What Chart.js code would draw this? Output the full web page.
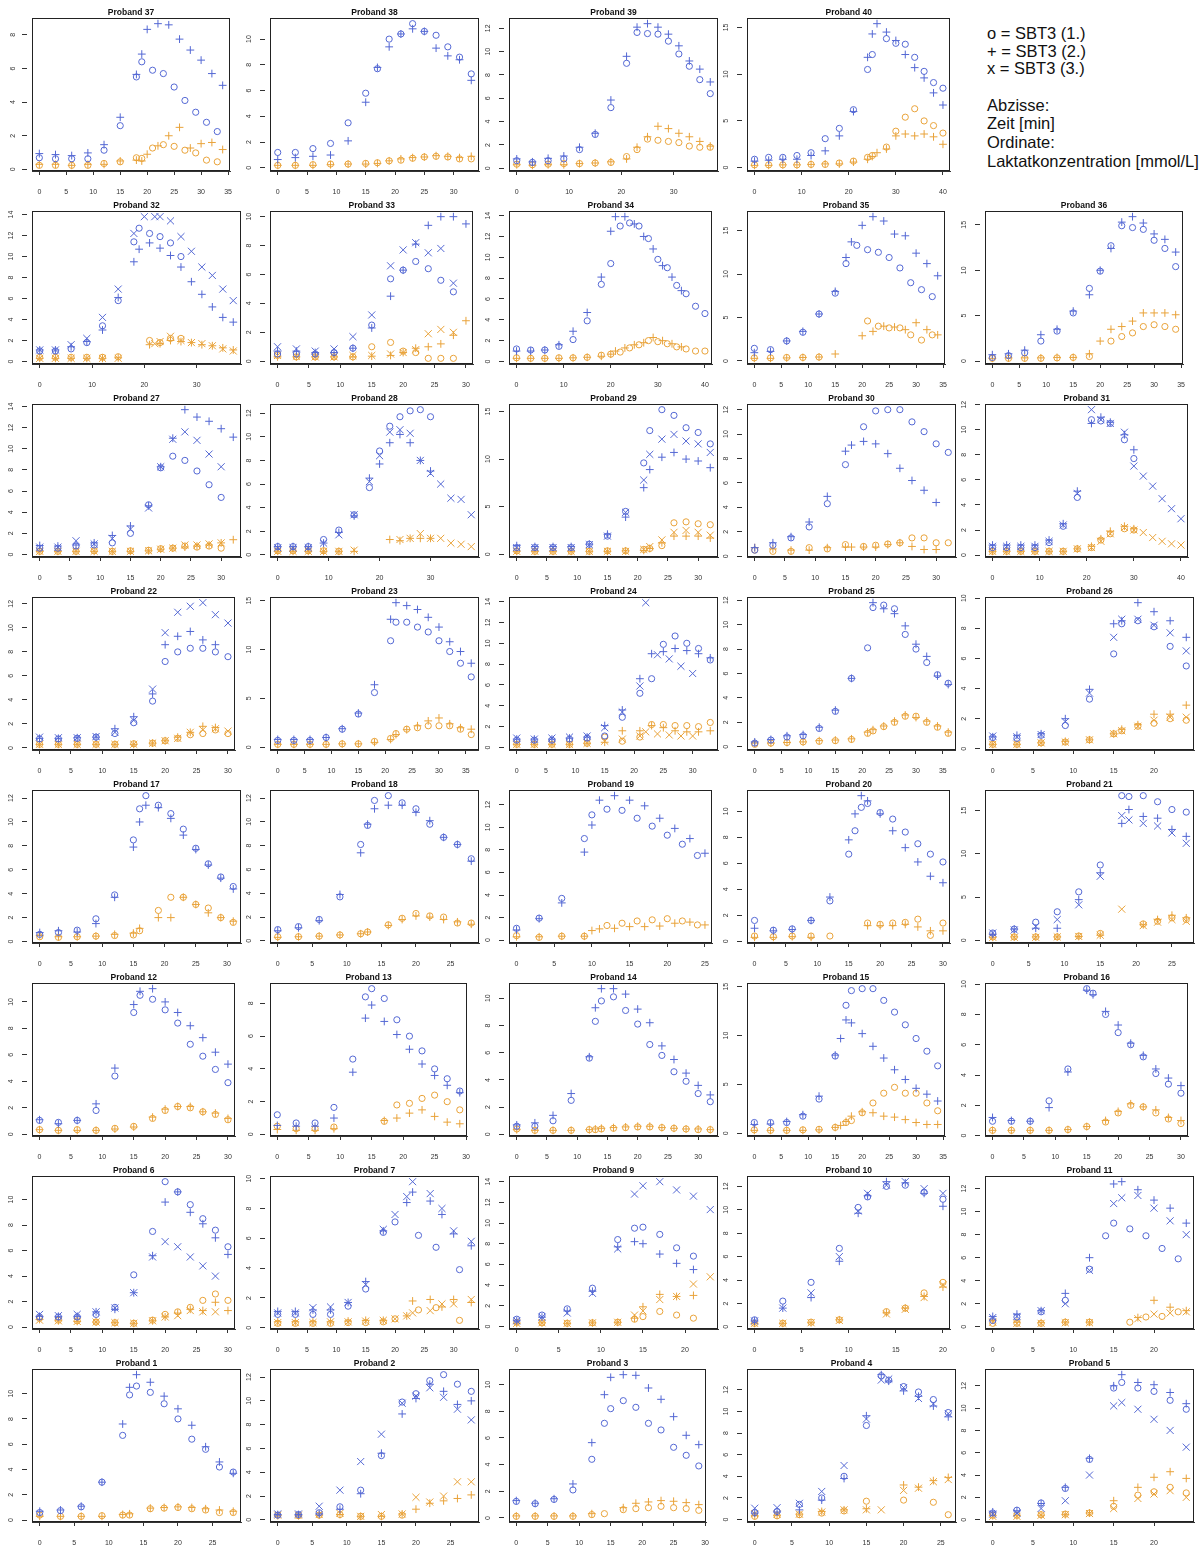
<!DOCTYPE html>
<html>
<head>
<meta charset="utf-8">
<script src="https://cdn.jsdelivr.net/npm/chart.js@4.4.1/dist/chart.umd.min.js"></script>
<style>
  body { margin: 0; background: #fff; width: 1204px; height: 1550px; position: relative; overflow: hidden; font-family: "Liberation Sans", Arial, sans-serif; }
  canvas { position: absolute; }
  .note { position: absolute; left: 987px; font-size: 16.5px; line-height: 20px; color: #111; white-space: nowrap; }
</style>
</head>
<body>
<div class="note" style="top:23px">o = SBT3 (1.)</div>
<div class="note" style="top:41px">+ = SBT3 (2.)</div>
<div class="note" style="top:58px">x = SBT3 (3.)</div>
<div class="note" style="top:95px">Abzisse:</div>
<div class="note" style="top:113px">Zeit [min]</div>
<div class="note" style="top:132px">Ordinate:</div>
<div class="note" style="top:151px">Laktatkonzentration [mmol/L]</div>

<script>
// panels in reading order (row 1 has four panels, then the notes)
const proband = [37, 38, 39, 40, 32, 33, 34, 35, 36, 27, 28, 29, 30, 31, 22, 23, 24, 25, 26,
  17, 18, 19, 20, 21, 12, 13, 14, 15, 16, 6, 7, 9, 10, 11, 1, 2, 3, 4, 5];

const xStep = [5, 5, 10, 10, 10, 5, 10, 5, 5, 5, 10, 5, 5, 10, 5, 5, 5, 5, 5,
  5, 5, 5, 5, 5, 5, 5, 5, 5, 5, 5, 5, 5, 5, 5, 5, 5, 5, 5, 5];
const yStep = [2, 2, 2, 5, 2, 2, 2, 5, 5, 2, 2, 5, 2, 2, 2, 5, 2, 2, 2,
  2, 2, 2, 2, 5, 2, 2, 2, 5, 2, 2, 2, 2, 2, 2, 2, 2, 2, 2, 2];

// sampling times [min] of test 1 (o)
const time1 = [
  [0,3,6,9,12,15,18,19,21,23,25,27,29,31,33],
  [0,3,6,9,12,15,17,19,21,23,25,27,29,31,33],
  [0,3,6,9,12,15,18,21,23,25,27,29,31,33,35,37],
  [0,3,6,9,12,15,18,21,24,25,28,30,32,34,36,38,40],
  [0,3,6,9,12,15,18,19,21,23,25,27],
  [0,3,6,9,12,15,18,20,22,24,26,28,30],
  [0,3,6,9,12,15,18,20,22,24,26,28,30,32,34,36,38,40],
  [0,3,6,9,12,15,17,19,21,23,25,27,29,31,33],
  [0,3,6,9,12,15,18,20,22,24,26,28,30,32,34],
  [0,3,6,9,12,15,18,20,22,24,26,28,30],
  [0,3,6,9,12,15,18,20,22,24,26,28,30],
  [0,3,6,9,12,15,18,21,22,24,26,28,30,32],
  [0,3,6,9,12,15,18,20,22,24,26,28,30,32],
  [0,3,6,9,12,15,18,21,23,25,28,30],
  [0,3,6,9,12,15,18,20,22,24,26,28,30],
  [0,3,6,9,12,15,18,21,22,24,26,28,30,32,34,36],
  [0,3,6,9,12,15,18,21,23,25,27,29,31,33],
  [0,3,6,9,12,15,18,21,22,24,26,28,30,32,34,36],
  [0,3,6,9,12,15,16,18,20,22,24],
  [0,3,6,9,12,15,16,17,19,21,23,25,27,29,31],
  [0,3,6,9,12,13,14,16,18,20,22,24,26,28],
  [0,3,6,9,10,12,14,16,18,20,22,24],
  [0,3,6,9,12,15,16,17,18,20,22,24,26,28,30],
  [0,3,6,9,12,15,18,19,21,23,25,27],
  [0,3,6,9,12,15,16,18,20,22,24,26,28,30],
  [0,3,6,9,12,14,15,17,19,21,23,25,27,29],
  [0,3,6,9,12,13,14,16,18,20,22,24,26,28,30,32],
  [0,3,6,9,12,15,16,17,18,20,22,24,26,28,30,32,34],
  [0,3,6,9,12,15,16,18,20,22,24,26,28,30],
  [0,3,6,9,12,15,18,20,22,24,26,28,30],
  [0,3,6,9,12,15,18,20,24,27,31],
  [0,3,6,9,12,14,15,17,19,21,23],
  [0,3,6,9,11,12,14,16,18,20],
  [0,3,6,9,12,14,15,17,19,21,23],
  [0,3,6,9,12,13,14,16,18,20,22,24,26,28],
  [0,3,6,9,12,15,18,20,22,24,26,28],
  [0,3,6,9,12,14,15,17,19,21,23,25,27,29],
  [0,3,6,9,12,15,17,18,20,22,24,26],
  [0,3,6,9,12,15,16,18,20,22,24]
];

// sampling times of test 2 (+), null = same as test 1
const time2 = [
  [0,3,6,9,12,15,18,19,20,22,24,26,28,30,32,34], null, null,
  [0,3,6,9,12,15,18,21,24,25,26,28,30,32,34,36,38,40],
  [0,3,6,9,12,15,18,19,21,23,25,27,29,31,33,35,37], null,
  [0,3,6,9,12,15,18,20,21,23,25,27,29,31,33,35],
  [0,3,6,9,12,15,17,18,20,22,24,26,28,30,32,34], null,
  [0,3,6,9,12,15,18,20,22,24,26,28,30,32], null, null,
  [0,3,6,9,12,15,16,18,20,22,24,26,28,30], null,
  null, null, null, null, null,
  null, null, [0,3,6,9,10,11,13,15,17,19,21,23,25], null, null,
  null, null, null, null, null,
  null, [0,3,6,9,12,15,18,22,23,26,28,30,33], null, null, [0,3,6,9,12,15,16,18,20,22,24],
  null, null, null, null, null
];

// sampling times of test 3 (x), null = same as test 1
const time3 = [
  null, null, null, null,
  [0,3,6,9,12,15,18,20,22,23,25,27,29,31,33,35,37], null, null, null, null,
  null, [0,3,6,9,12,15,18,20,22,24,26,28,30,32,34,36,38], null, null,
  [0,3,6,9,12,15,18,21,23,25,28,30,32,34,36,38,40],
  null, null, [0,3,6,9,12,15,18,21,22,24,26,28,30], null, null,
  null, null, null, null, null,
  null, null, null, null, null,
  null, [0,3,6,9,12,15,18,20,22,23,26,28,30,33], null, null, [0,3,6,9,12,15,16,18,20,22,24],
  null, null, null, null, null
];

// blue series [mmol/L]
const blue1 = [
  [0.69,0.63,0.63,0.63,1.14,2.6,5.5,6.4,5.9,5.7,4.9,4.1,3.4,2.8,2.25],
  [1.2,1.2,1.5,1.9,3.5,5.8,7.7,10.0,10.4,11.2,10.6,10.3,9.4,8.6,7.3],
  [0.65,0.5,0.65,0.8,1.6,2.9,5.2,9.0,11.65,11.55,11.5,10.9,9.8,8.75,7.6,6.4],
  [0.9,1.1,1.1,1.3,1.6,3.1,4.2,6.2,10.5,12.1,13.8,13.3,13.2,11.8,10.3,9.1,8.5],
  [1.0,1.0,1.2,1.8,3.4,5.8,11.4,12.7,12.2,11.9,11.3,10.0],
  [0.5,0.5,0.5,0.6,0.9,2.5,5.7,6.3,6.9,6.4,5.6,4.8,null],
  [1.2,1.1,1.1,1.45,2.1,3.9,7.4,9.4,13.0,13.3,13.0,11.8,9.8,9.0,7.3,6.5,5.3,4.6],
  [1.45,1.3,2.3,3.3,5.4,7.8,11.2,13.3,12.8,12.5,11.9,10.7,9.0,8.2,7.4],
  [0.4,0.6,0.9,2.2,3.3,5.3,8.0,9.9,12.7,14.9,14.7,14.5,13.3,12.4,10.4],
  [0.6,0.6,0.8,0.9,1.1,2.0,4.7,8.2,9.3,8.9,7.9,6.6,5.4],
  [0.7,0.7,0.7,1.3,2.1,3.4,5.7,8.8,10.9,11.7,12.2,12.3,11.7],
  [0.7,0.7,0.7,0.7,1.05,1.9,4.5,9.6,13.0,15.2,14.6,13.3,12.8,11.6],
  [0.5,0.9,1.5,2.4,4.3,7.5,10.6,11.9,12.0,12.0,11.0,10.2,9.2,8.5],
  [0.6,0.6,0.6,0.6,1.0,2.3,4.6,10.8,10.7,10.5,9.2,7.7],
  [0.75,0.75,0.8,0.9,1.2,2.1,3.9,7.2,8.0,8.3,8.3,8.0,7.6],
  [0.7,0.7,0.7,1.0,1.85,3.4,5.6,10.9,12.8,12.8,12.3,11.8,10.9,9.8,8.6,7.2],
  [0.7,0.7,0.7,0.8,0.9,1.1,2.9,5.2,6.6,9.9,10.7,10.0,9.5,8.4],
  [0.3,0.55,0.8,0.9,1.5,2.9,5.6,8.1,11.4,11.6,11.3,9.2,8.0,6.9,5.9,5.2],
  [0.75,0.7,0.9,1.55,3.3,6.3,8.3,8.5,8.1,6.8,5.5],
  [0.6,0.75,0.95,1.9,3.9,8.5,11.1,12.2,11.4,10.7,9.4,7.8,6.5,5.4,4.6],
  [0.95,1.2,1.8,3.7,8.1,9.7,11.8,12.2,11.6,11.1,9.8,8.7,8.1,6.9],
  [1.05,1.95,3.7,9.0,11.1,11.6,11.5,10.8,10.1,9.3,8.5,7.5],
  [1.6,0.85,0.95,1.6,3.1,6.7,8.5,10.3,10.6,9.9,9.4,8.4,7.5,6.7,6.1],
  [0.85,1.3,2.1,3.3,5.6,8.7,16.7,16.6,16.7,16.0,15.1,14.8],
  [1.05,0.9,1.05,1.8,4.4,9.2,10.5,10.2,9.4,8.4,6.8,5.9,4.9,3.9],
  [1.2,0.7,0.7,1.65,4.6,8.4,8.9,8.3,7.0,6.0,5.1,4.0,3.4,2.65],
  [0.6,0.6,1.0,2.5,5.6,8.3,9.8,10.1,9.1,8.1,6.6,5.8,4.6,3.9,3.0,2.4],
  [1.1,1.1,1.1,1.75,3.5,7.9,null,13.1,14.6,14.8,14.8,13.6,12.4,11.1,9.7,8.4,6.9],
  [0.95,0.95,0.95,2.3,4.4,9.7,9.4,8.0,6.8,6.0,5.2,4.1,3.4,2.8],
  [0.8,0.8,0.8,1.0,1.55,4.1,7.5,11.4,10.6,9.6,8.5,7.6,6.3],
  [0.9,0.9,0.9,0.9,1.45,2.6,6.4,7.1,6.2,5.4,3.9],
  [0.7,1.1,1.7,3.7,8.4,9.5,9.6,8.9,7.6,6.8,null],
  [0.6,2.2,3.8,6.7,10.2,11.1,12.0,12.1,11.5,10.9],
  [0.55,0.85,1.3,2.3,5.0,7.9,9.0,8.5,7.9,6.8,5.9],
  [0.6,0.75,1.05,3.0,6.7,9.9,10.6,10.1,9.2,8.0,6.4,5.6,4.2,3.8],
  [0.4,0.45,0.6,1.1,2.5,5.4,9.9,10.6,11.7,12.2,11.4,10.8],
  [1.24,1.07,1.39,2.1,4.4,7.1,8.2,8.8,8.3,7.1,6.6,5.3,4.7,3.9],
  [0.65,0.75,1.4,2.0,4.0,8.7,13.3,12.9,12.3,11.8,11.1,9.9],
  [0.6,0.85,1.5,2.8,5.4,11.8,12.3,11.8,11.5,10.7,9.9]
];

const blue2 = [
  [0.94,0.88,0.82,0.98,1.47,3.1,5.65,6.86,8.33,8.67,8.6,7.75,7.1,6.5,5.7,5.0],
  [0.65,0.8,0.9,1.0,2.1,5.1,7.8,9.4,10.4,10.8,10.6,9.3,8.7,8.4,6.8],
  [0.8,0.55,0.85,1.05,1.8,3.0,5.85,9.6,12.1,12.4,12.1,11.5,10.5,9.2,8.5,7.4],
  [0.7,0.8,0.9,0.9,1.3,1.8,3.4,6.0,11.8,14.3,15.4,14.5,13.6,12.1,10.7,9.6,8.0,6.7],
  [1.1,1.1,1.4,1.9,3.0,6.1,9.5,10.7,11.3,10.8,10.1,9.0,7.6,6.4,5.2,4.2,3.75],
  [0.7,0.7,0.6,0.6,0.9,2.3,4.5,6.3,8.1,9.4,10.0,10.0,9.5],
  [1.0,1.0,1.1,1.6,2.9,4.7,8.1,12.5,13.9,13.9,13.2,12.0,10.8,9.2,8.1,6.8],
  [0.95,1.1,2.3,3.4,5.4,8.0,11.9,13.7,15.6,16.6,16.1,14.6,14.4,12.4,11.2,9.8],
  [0.7,0.8,1.2,2.9,3.5,5.5,7.3,10.0,12.4,15.3,15.9,15.2,14.0,13.4,12.0],
  [0.85,0.8,0.9,1.1,1.8,2.7,4.6,8.3,11.0,13.7,13.0,12.6,11.9,11.1],
  [0.7,0.7,0.7,1.0,1.9,3.3,6.5,7.7,9.5,10.2,9.5,8.0,7.1],
  [0.9,0.8,0.8,0.8,1.05,2.1,3.9,7.0,8.9,10.2,10.7,10.0,9.8,9.1],
  [0.7,1.1,1.6,2.8,4.9,8.6,9.1,9.4,9.2,8.4,7.2,6.2,5.4,4.4],
  [0.8,0.8,0.8,0.8,1.2,2.5,5.1,10.5,11.0,10.6,9.6,8.4],
  [0.8,0.8,0.85,0.9,1.6,2.6,4.5,8.6,9.3,9.7,9.0,8.6,null],
  [0.8,0.8,0.8,1.0,1.9,3.5,6.4,13.1,14.8,14.5,14.1,13.3,12.3,10.8,9.8,8.6],
  [0.8,0.8,0.8,0.9,1.0,2.1,3.6,6.6,9.0,9.2,9.5,9.3,9.0,8.6],
  [0.4,0.6,0.9,1.0,1.6,3.0,5.6,null,11.8,11.3,10.9,9.9,8.4,7.4,5.8,5.1],
  [0.8,0.9,1.0,2.0,3.95,8.3,8.5,9.7,9.1,8.5,7.4],
  [0.75,0.9,0.8,1.5,3.7,7.9,10.0,11.4,11.2,10.3,8.9,7.7,6.4,5.3,4.4],
  [0.85,1.1,1.7,3.9,7.4,9.8,11.1,11.4,11.4,10.8,10.1,8.7,8.1,6.7],
  [0.9,1.9,3.3,7.8,10.2,12.4,12.8,12.4,11.9,10.8,9.9,9.0,7.7],
  [1.0,0.8,0.9,1.6,3.4,7.8,9.8,11.2,10.8,9.8,8.5,7.2,6.1,5.0,4.5],
  [0.7,1.3,1.4,1.4,4.7,7.8,13.5,15.1,14.3,14.1,12.8,12.0],
  [1.1,0.8,1.05,2.3,5.0,9.8,10.8,11.0,10.0,9.2,8.2,7.3,6.2,5.3],
  [0.55,0.5,0.5,1.0,3.8,7.1,7.9,6.9,6.1,5.2,4.3,3.6,3.0,2.55],
  [0.7,0.85,1.4,3.0,5.7,9.3,10.7,10.7,10.3,9.2,8.2,6.5,5.5,4.5,3.6,2.9],
  [0.9,0.95,1.2,1.9,3.8,8.0,9.7,11.6,11.3,10.2,8.9,7.7,6.5,5.5,4.6,4.0,3.3],
  [1.2,1.0,0.95,1.85,4.2,9.6,9.3,8.2,7.3,6.1,5.3,4.4,3.8,3.3],
  [0.85,0.85,0.85,1.2,1.4,2.7,5.6,9.8,10.6,9.0,8.1,7.0,5.7],
  [1.1,1.1,1.2,1.2,1.7,3.1,6.5,8.4,9.1,8.5,7.6,6.3,5.5],
  [0.55,0.9,1.5,3.4,7.7,8.2,8.0,7.0,6.1,5.5,null],
  [0.5,1.6,2.5,5.6,9.7,11.2,12.4,12.3,11.4,10.3],
  [0.9,1.1,1.4,2.9,6.0,12.4,12.6,11.9,11.0,10.3,9.0],
  [0.7,0.8,1.1,3.0,7.6,10.5,11.5,10.9,9.8,8.8,7.5,5.8,4.6,3.7],
  [0.45,0.45,0.5,0.9,2.2,5.6,8.9,10.2,11.4,10.8,9.7,10.0],
  [1.3,1.1,1.44,2.55,5.65,9.25,10.55,10.75,10.7,9.75,8.9,7.6,6.2,5.5],
  [0.6,0.7,0.9,1.8,3.8,9.6,13.4,12.8,11.9,11.4,10.5,9.5],
  [0.7,0.8,1.45,2.9,5.5,12.0,13.0,12.3,12.1,11.4,10.4]
];

const blue3 = [
  null, null, null, null,
  [1.1,1.1,1.6,2.2,4.2,6.9,12.2,13.8,13.8,13.8,13.4,11.9,10.5,9.0,8.2,6.9,5.8],
  [1.0,0.85,0.7,0.85,1.7,3.2,6.6,7.7,8.2,7.5,7.8,5.4,null],
  null, null, null,
  [0.7,0.7,1.3,1.0,1.5,2.4,4.4,8.3,10.9,11.6,10.8,9.5,8.3],
  [0.6,0.6,0.6,1.0,1.7,3.4,6.2,8.4,10.4,10.6,10.3,8.0,6.9,6.0,4.8,4.7,3.4],
  [0.7,0.7,0.7,0.7,1.0,1.9,4.4,7.8,10.5,12.1,12.6,11.9,11.6,10.7],
  null,
  [0.7,0.7,0.7,0.7,1.1,2.4,4.9,11.6,10.8,10.5,9.8,7.1,6.3,5.5,4.5,3.7,2.9],
  [0.9,0.85,0.85,0.95,1.3,2.3,4.9,9.6,11.3,11.8,12.1,11.1,10.4],
  null,
  [0.9,0.8,0.9,1.0,1.1,1.9,3.4,5.9,13.9,8.9,8.5,7.8,7.1],
  null,
  [0.85,0.8,0.95,1.8,3.7,7.4,8.6,8.6,8.2,7.7,6.5],
  null, null, null, null,
  [0.85,1.2,1.6,2.4,4.1,7.4,14.4,13.9,13.5,13.2,12.4,11.2],
  null, null, null, null, null,
  [1.0,0.9,1.0,1.2,1.5,2.7,5.5,6.7,6.3,5.5,4.8,4.0,null],
  [1.0,1.0,1.35,1.4,1.7,2.9,6.6,7.6,8.8,9.8,9.0,8.0,6.5,5.8],
  [0.55,0.9,1.3,3.2,7.5,12.8,13.6,14.0,13.2,12.6,11.3],
  [0.5,1.6,2.9,6.0,9.9,11.4,12.1,12.4,11.8,11.4],
  [0.8,0.9,1.4,2.0,4.9,10.7,11.2,11.4,10.3,9.2,8.0],
  null,
  [0.5,0.5,1.15,2.5,4.9,7.2,9.8,10.4,11.1,10.3,9.3,8.4],
  null,
  [1.05,1.1,1.5,2.6,5.0,9.3,12.9,13.0,12.2,11.2,10.7,9.8],
  [0.5,0.6,1.0,1.7,4.0,10.2,10.5,9.9,9.0,8.0,6.5]
];

// orange series [mmol/L]
const orange1 = [
  [0.24,0.24,0.24,0.24,0.35,0.45,0.69,0.65,1.27,1.47,1.37,1.14,0.98,0.55,0.45],
  [0.2,0.2,0.25,0.3,0.3,0.35,0.4,0.55,0.6,0.75,0.85,0.9,0.85,0.7,0.7],
  [0.35,0.3,0.35,0.4,0.4,0.45,0.5,1.0,1.6,2.5,2.4,2.3,2.2,1.9,1.8,1.8],
  [0.3,0.3,0.3,0.3,0.35,0.35,0.5,0.7,1.1,1.3,2.2,3.9,5.4,6.3,5.0,4.5,3.7],
  [0.4,0.4,0.4,0.4,0.4,0.45,null,null,2.0,1.8,2.2,2.2],
  [0.4,0.3,0.3,0.3,0.3,1.0,1.3,0.7,0.6,0.2,0.2,0.2,null],
  [0.35,0.3,0.3,0.35,0.35,0.4,0.6,0.7,0.9,1.3,1.6,2.0,1.9,1.7,1.4,1.2,1.0,1.0],
  [0.35,0.35,0.4,0.4,0.45,null,null,null,4.6,4.0,3.8,3.8,3.0,2.4,3.0],
  [0.3,0.3,0.3,0.3,0.35,0.4,0.5,null,2.2,2.7,3.1,3.8,4.0,3.8,3.5],
  [0.3,0.3,0.3,0.35,0.3,0.35,0.4,0.55,0.6,0.8,0.7,0.8,0.6],
  [0.35,0.35,0.35,0.35,0.3,null,null,null,null,null,null,null,null],
  [0.35,0.3,0.3,0.3,0.3,0.35,0.35,0.5,0.6,0.9,3.3,3.4,3.2,3.1],
  [0.5,0.4,0.4,0.7,0.6,0.95,0.8,0.9,1.0,1.1,1.5,1.5,1.1,1.1],
  [0.3,0.3,0.3,0.3,0.3,0.3,0.5,0.6,1.2,1.7,2.1,2.0],
  [0.3,0.3,0.3,0.3,0.3,0.35,0.4,0.6,0.8,1.1,1.2,1.5,1.2],
  [0.3,0.3,0.3,0.3,0.35,0.35,0.6,0.9,1.4,1.85,2.0,2.2,2.2,2.2,1.85,1.3],
  [0.3,0.3,0.3,0.3,0.4,1.0,0.6,1.0,2.2,2.2,2.1,2.1,2.0,2.4],
  [0.2,0.3,0.35,0.4,0.45,0.5,0.6,1.1,1.3,1.65,2.0,2.5,2.5,2.0,1.6,1.1],
  [0.3,0.3,0.4,0.45,0.6,1.0,1.2,1.5,1.7,2.0,1.9],
  [0.4,0.35,0.4,0.45,0.5,0.55,0.9,null,2.6,3.7,3.7,3.1,2.8,2.0,1.6],
  [0.35,0.35,0.4,0.5,0.6,0.75,null,1.35,1.9,2.3,2.1,2.0,1.5,1.5],
  [0.4,0.25,0.35,0.35,null,1.3,1.5,1.7,1.8,1.9,1.7,1.35],
  [0.4,0.35,0.4,0.4,0.4,null,null,null,1.4,1.3,1.4,1.45,1.7,0.45,1.4],
  [0.4,0.4,0.4,0.4,0.5,0.8,null,null,1.9,2.2,2.6,2.4],
  [0.35,0.3,0.35,0.3,0.45,0.6,null,1.2,1.8,2.1,2.0,1.7,1.5,1.1],
  [0.5,0.35,0.35,0.45,null,null,null,0.8,1.8,1.9,2.2,2.4,2.0,1.5],
  [0.4,0.3,0.3,0.3,0.35,0.35,0.4,0.45,0.5,0.55,0.55,0.5,0.45,0.4,0.35,0.35],
  [0.35,0.3,0.3,0.35,0.4,0.6,null,1.1,1.3,2.1,3.1,4.1,4.7,4.1,4.1,3.1,2.3],
  [0.35,0.35,0.35,0.35,0.4,0.6,null,0.9,1.5,2.0,1.9,1.5,1.1,0.8],
  [0.7,0.55,0.5,0.4,0.35,0.3,0.55,1.0,1.2,1.55,2.1,2.6,2.1],
  [0.3,0.3,0.3,0.3,0.35,0.35,0.4,0.6,1.2,1.35,0.5],
  [0.4,0.35,0.3,0.35,0.4,0.7,0.95,1.45,1.1,0.8,null],
  [0.3,0.3,0.4,0.6,null,null,1.3,1.6,2.9,3.8],
  [0.3,0.3,0.3,0.4,0.4,null,null,0.4,0.85,0.9,1.3],
  [0.4,0.3,0.3,0.35,0.4,0.4,null,0.9,0.95,1.0,0.9,0.8,0.6,0.6],
  [0.4,0.35,0.4,0.45,0.3,0.3,0.4,null,null,null,null,null],
  [0.12,0.12,0.12,0.12,0.25,0.32,null,0.62,0.7,0.77,0.87,0.77,0.7,0.57],
  [0.3,0.35,0.45,0.6,0.8,1.7,null,null,1.8,null,1.6,0.45],
  [0.4,0.4,0.45,0.5,0.6,1.2,null,2.2,2.5,2.9,2.4]
];

const orange2 = [
  [0.3,0.3,0.24,0.3,0.3,0.5,0.55,0.5,0.9,1.4,2.0,2.5,1.27,1.53,1.6,1.18],
  [0.2,0.2,0.2,0.25,0.3,0.3,0.35,0.55,0.7,0.8,0.85,0.95,0.9,0.8,0.9],
  [0.3,0.25,0.3,0.3,0.4,0.45,0.55,0.8,1.8,2.7,3.6,3.4,3.0,2.7,2.3,1.9],
  [0.25,0.25,0.3,0.3,0.35,0.4,0.4,0.6,0.9,1.2,1.6,2.0,3.4,3.6,3.4,3.6,3.3,2.5],
  [0.3,0.3,0.3,0.3,0.3,0.35,null,null,1.6,1.7,2.0,1.9,1.8,1.6,1.5,1.3,1.1],
  [0.3,0.3,0.3,0.3,0.3,0.35,0.4,0.6,0.9,1.0,1.2,1.8,2.8],
  [0.3,0.3,0.3,0.3,0.35,0.4,0.5,0.7,1.0,1.3,1.6,1.8,2.3,2.0,1.7,1.4],
  [0.3,0.3,0.35,0.4,0.45,0.8,null,null,2.9,3.4,4.0,3.9,3.6,4.4,3.6,3.0],
  [0.3,0.35,0.35,0.35,0.4,0.4,0.8,2.2,3.5,3.8,4.4,5.3,5.3,5.3,5.1],
  [0.3,0.3,0.3,0.3,0.3,0.3,0.35,0.5,0.6,0.7,0.8,0.9,1.1,1.4],
  [0.3,0.3,0.3,0.3,0.3,0.3,null,null,1.3,1.2,1.4,1.4,1.4],
  [0.3,0.3,0.3,0.3,0.3,0.3,0.35,0.4,0.6,1.2,1.9,1.9,1.9,1.7],
  [0.7,0.6,0.5,0.5,0.7,0.75,0.75,0.75,0.75,0.95,1.1,0.8,0.55,0.55],
  [0.3,0.3,0.3,0.3,0.3,0.3,0.5,0.7,1.3,1.9,2.3,2.1],
  [0.3,0.3,0.3,0.3,0.3,0.3,0.4,0.6,0.9,1.3,1.8,1.7,null],
  [0.3,0.3,0.3,0.3,0.35,0.35,0.5,0.8,1.3,1.8,2.2,2.7,3.0,2.4,2.0,1.85],
  [0.3,0.3,0.3,0.3,0.4,0.5,1.6,1.6,2.1,1.9,1.6,1.5,1.5,1.6],
  [0.3,0.3,0.35,0.4,0.5,0.55,0.65,1.2,1.4,1.7,2.1,2.6,2.4,2.1,1.7,1.2],
  [0.3,0.3,0.4,0.5,0.6,1.0,1.3,1.6,2.3,2.3,2.9],
  [0.5,0.4,0.4,0.45,0.6,0.7,1.1,null,2.0,2.0,3.7,3.1,2.4,2.0,1.7],
  [0.3,0.35,0.4,0.5,0.6,0.75,null,1.3,1.8,2.1,2.0,1.8,1.6,1.4],
  [0.3,0.3,0.35,0.35,0.85,1.0,1.05,1.2,1.2,1.25,1.5,1.6,1.35],
  [0.3,0.3,0.35,0.3,null,null,null,null,1.2,1.2,1.2,1.3,1.1,0.8,0.8],
  [0.35,0.4,0.4,0.4,0.45,0.6,null,null,1.8,2.4,2.9,2.6],
  [0.35,0.3,0.3,0.3,0.4,0.55,null,1.3,1.9,2.1,2.1,1.7,1.6,1.2],
  [0.3,0.25,0.25,0.35,null,null,null,0.85,1.0,1.3,1.5,1.1,0.75,0.65],
  [0.35,0.3,0.3,0.3,0.35,0.4,0.45,0.5,0.55,0.6,0.6,0.5,0.45,0.4,0.4,0.35],
  [0.3,0.3,0.3,0.3,0.35,0.6,0.8,1.2,1.75,2.2,2.1,1.75,1.65,1.4,1.1,0.9,0.9],
  [0.35,0.35,0.35,0.35,0.4,0.6,null,1.0,1.6,2.1,1.9,1.7,1.2,1.0],
  [0.6,0.5,0.45,0.4,0.35,0.3,0.5,0.8,1.1,1.4,1.3,1.95,1.3],
  [0.4,0.4,0.4,0.4,0.45,0.5,0.5,0.8,1.8,1.9,1.4,1.9,1.7],
  [0.3,0.35,0.3,0.35,0.4,0.8,1.9,3.1,2.9,3.0,null],
  [0.3,0.3,0.35,0.6,null,null,1.2,1.6,2.6,3.4],
  [0.6,0.4,0.35,0.4,0.4,null,null,0.8,2.3,1.7,1.4],
  [0.3,0.3,0.3,0.3,0.45,0.5,null,0.95,1.0,1.05,1.0,0.9,0.8,0.7],
  [0.35,0.35,0.4,0.45,0.3,0.3,0.5,0.9,1.4,1.6,1.8,2.1],
  [0.15,0.15,0.15,0.15,0.32,null,null,0.77,1.1,1.2,1.3,1.25,1.15,1.0],
  [0.35,0.4,0.5,0.75,0.9,1.0,null,null,3.2,3.0,3.6,3.9],
  [0.35,0.35,0.4,0.45,0.6,1.7,null,2.9,3.8,4.3,3.7]
];

const orange3 = [
  null, null, null, null,
  [0.3,0.3,0.3,0.3,0.3,0.3,null,null,1.7,1.9,2.4,2.0,1.8,1.7,1.5,1.2,1.0],
  [0.4,0.35,0.3,0.3,0.4,0.4,0.5,0.6,0.8,1.9,2.2,2.0,null],
  null, null, null,
  [0.3,0.3,0.3,0.3,0.3,0.3,0.35,0.5,0.6,0.9,0.9,1.0,1.1],
  [0.3,0.3,0.3,0.3,0.3,0.4,null,null,null,1.3,1.4,1.8,1.4,1.4,1.0,0.9,0.7],
  [0.3,0.3,0.3,0.3,0.3,0.3,0.3,0.5,0.8,1.5,2.3,2.5,2.3,2.0],
  null,
  [0.3,0.3,0.3,0.3,0.3,0.3,0.5,0.6,1.1,1.7,2.2,2.0,1.8,1.4,1.1,0.9,0.8],
  [0.3,0.3,0.3,0.3,0.3,0.3,0.4,0.6,0.8,1.3,1.5,1.6,1.4],
  null,
  [0.3,0.3,0.3,0.3,0.4,0.6,0.8,1.1,1.5,1.3,1.2,1.1,1.1],
  null,
  [0.3,0.3,0.4,0.45,0.6,1.0,1.2,1.5,1.9,2.1,2.1],
  null, null, null, null,
  [0.35,0.35,0.35,0.4,0.45,0.6,3.6,null,1.7,2.1,2.4,2.2],
  null, null, null, null, null,
  [0.55,0.5,0.45,0.4,0.35,0.3,0.5,0.8,0.9,1.3,1.2,1.2,null],
  [0.35,0.35,0.35,0.4,0.4,0.45,0.5,0.6,0.8,1.0,1.15,1.6,1.6,1.9],
  [0.3,0.35,0.3,0.35,0.4,1.1,1.5,2.6,2.9,4.1,4.8],
  [0.3,0.3,0.35,0.55,null,null,1.1,1.5,2.5,3.6],
  [0.4,0.3,0.3,0.35,0.35,null,null,0.7,1.1,1.2,1.3],
  null,
  [0.4,0.4,0.45,0.55,0.3,0.45,0.5,1.9,1.5,2.0,3.2,3.2],
  null,
  [0.55,0.5,0.5,0.7,0.9,0.9,0.9,null,2.7,2.9,3.5,3.7],
  [0.3,0.3,0.4,0.45,0.55,1.0,null,1.9,2.3,2.6,2.0]
];

const BLUE = '#5468d4';
const ORANGE = '#e9a33a';
const MARKS = [
  { style: 'circle', radius: 3.1 },
  { style: 'cross', radius: 3.9 },
  { style: 'crossRot', radius: 5 }
];
const FONT = '"Liberation Sans", Arial, sans-serif';

const boxW = 209, boxH = 153;
const padL = 30, padT = 18, padR = 4, padB = 28;

// box round the plot and the panel title
const framePlugin = {
  id: 'frame',
  afterDraw(chart, args, opts) {
    const { ctx, chartArea: a } = chart;
    ctx.save();
    ctx.strokeStyle = '#222';
    ctx.lineWidth = 1;
    ctx.strokeRect(Math.round(a.left) + 0.5, Math.round(a.top) + 0.5,
      Math.round(a.right - a.left) - 1, Math.round(a.bottom - a.top) - 1);
    ctx.fillStyle = '#111';
    ctx.font = 'bold 8.5px ' + FONT;
    ctx.textAlign = 'center';
    ctx.textBaseline = 'alphabetic';
    ctx.fillText(opts.title, (a.left + a.right) / 2, a.top - 3);
    ctx.restore();
  }
};

function points(times, values) {
  if (!values) return [];
  return times
    .map((t, k) => ({ x: t, y: values[k] }))
    .filter((p) => p.y !== null && p.y !== undefined);
}

function padded(list) {
  const lo = Math.min(...list);
  const hi = Math.max(...list);
  const pad = (hi - lo) * 0.04;
  return { min: lo - pad, max: hi + pad };
}

// ticks at whole multiples of the step, like R's pretty axis
function stepTicks(step) {
  return (scale) => {
    const out = [];
    for (let v = Math.ceil(scale.min / step) * step + 0; v <= scale.max + 1e-9; v += step) {
      out.push({ value: v });
    }
    scale.ticks = out;
  };
}

proband.forEach((id, i) => {
  const row = i < 4 ? 0 : Math.floor((i - 4) / 5) + 1;
  const col = i < 4 ? i : (i - 4) % 5;
  const boxLeft = Math.round(32 + col * 238.3);
  const boxTop = Math.round(18 + row * 193);

  const canvas = document.createElement('canvas');
  canvas.width = padL + boxW + padR;
  canvas.height = padT + boxH + padB;
  canvas.style.left = (boxLeft - padL) + 'px';
  canvas.style.top = (boxTop - padT) + 'px';
  document.body.appendChild(canvas);

  const t1 = time1[i];
  const t2 = time2[i] || t1;
  const t3 = time3[i] || t1;

  const series = [
    { data: points(t1, blue1[i]), color: BLUE, mark: MARKS[0] },
    { data: points(t2, blue2[i]), color: BLUE, mark: MARKS[1] },
    { data: points(t3, blue3[i]), color: BLUE, mark: MARKS[2] },
    { data: points(t1, orange1[i]), color: ORANGE, mark: MARKS[0] },
    { data: points(t2, orange2[i]), color: ORANGE, mark: MARKS[1] },
    { data: points(t3, orange3[i]), color: ORANGE, mark: MARKS[2] }
  ].filter((s) => s.data.length);

  const allX = [];
  const allY = [];
  series.forEach((s) => s.data.forEach((p) => { allX.push(p.x); allY.push(p.y); }));
  const xr = padded(allX);
  const yr = padded(allY);

  new Chart(canvas, {
    type: 'scatter',
    data: {
      datasets: series.map((s) => ({
        data: s.data,
        showLine: false,
        pointStyle: s.mark.style,
        pointRadius: s.mark.radius,
        pointHoverRadius: s.mark.radius,
        pointBorderWidth: 1,
        pointBorderColor: s.color,
        pointBackgroundColor: 'rgba(0,0,0,0)',
        borderColor: s.color
      }))
    },
    options: {
      responsive: false,
      animation: false,
      devicePixelRatio: 1,
      events: [],
      layout: { autoPadding: false, padding: { top: padT, right: padR, left: 0, bottom: 0 } },
      plugins: {
        legend: { display: false },
        tooltip: { enabled: false },
        frame: { title: 'Proband ' + id }
      },
      scales: {
        x: {
          type: 'linear',
          min: xr.min,
          max: xr.max,
          afterFit: (scale) => { scale.height = padB; },
          afterBuildTicks: stepTicks(xStep[i]),
          grid: { drawOnChartArea: false, tickLength: 4, color: '#333' },
          border: { display: true, color: '#333' },
          ticks: {
            autoSkip: false, maxRotation: 0, minRotation: 0, padding: 13,
            color: '#333', font: { family: FONT, size: 7 }
          }
        },
        y: {
          type: 'linear',
          min: yr.min,
          max: yr.max,
          afterFit: (scale) => { scale.width = padL; },
          afterBuildTicks: stepTicks(yStep[i]),
          grid: { drawOnChartArea: false, tickLength: 10, tickBorderDash: [5, 20], color: '#333' },
          border: { display: true, color: '#333' },
          ticks: {
            autoSkip: false, minRotation: 90, maxRotation: 90, crossAlign: 'center', padding: 7,
            color: '#333', font: { family: FONT, size: 7 }
          }
        }
      }
    },
    plugins: [framePlugin]
  });
});
</script>
</body>
</html>
